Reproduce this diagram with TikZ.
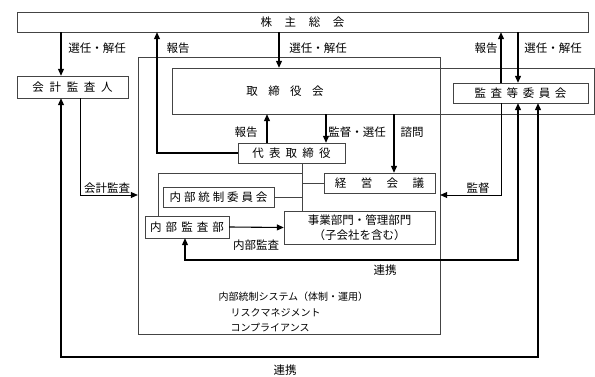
\documentclass[tikz,border=0pt]{standalone}
\usepackage{fontspec}
\setmainfont{Noto Sans CJK JP}
\usetikzlibrary{positioning, arrows.meta, calc}
\definecolor{lnbox}{HTML}{444444}

\begin{document}
\begin{tikzpicture}[x=1pt, y=-1pt, font=\fontsize{11.5}{14}\selectfont,
  box/.style={draw=lnbox, inner sep=0pt},
  arr/.style={-{Triangle[length=7pt,width=6pt]}, line width=1.1pt},
  thinarr/.style={-{Triangle[length=7pt,width=6pt]}, line width=0.7pt},
  arrboth/.style={{Triangle[length=7pt,width=6pt]}-{Triangle[length=7pt,width=6pt]}, line width=1.1pt},
  link/.style={draw=lnbox, line width=0.7pt},
  lbl/.style={inner sep=1pt}]
  \useasboundingbox (0,0) rectangle (595,377);

  % boxes
  \node[box, minimum width=571pt, minimum height=20pt] (soukai) at (302.5,22) {株\hspace{1.1em}主\hspace{1.1em}総\hspace{1.1em}会};
  \node[box, minimum width=302pt, minimum height=277pt] (system) at (289,195.5) {};
  \node[box, minimum width=422pt, minimum height=46pt] (torishimari) at (383,91) {};
  \node (torilabel) at (285,91) {取\hspace{0.9em}締\hspace{0.9em}役\hspace{0.9em}会};
  \node[box, minimum width=135pt, minimum height=20pt] (kansa) at (520.5,93) {監\hspace{0.4em}査\hspace{0.4em}等\hspace{0.4em}委\hspace{0.4em}員\hspace{0.4em}会};
  \node[box, minimum width=111pt, minimum height=22pt] (kaikei) at (72.5,87) {会\hspace{0.5em}計\hspace{0.5em}監\hspace{0.5em}査\hspace{0.5em}人};
  \node[box, minimum width=107pt, minimum height=20pt] (daihyo) at (291.5,153) {代\hspace{0.45em}表\hspace{0.45em}取\hspace{0.45em}締\hspace{0.45em}役};
  \node[box, minimum width=111pt, minimum height=20pt] (keiei) at (379.5,183) {経\hspace{1.25em}営\hspace{1.25em}会\hspace{1.25em}議};
  \node[box, minimum width=111pt, minimum height=20pt] (iinkai) at (218.5,197) {内\hspace{0.25em}部\hspace{0.25em}統\hspace{0.25em}制\hspace{0.25em}委\hspace{0.25em}員\hspace{0.25em}会};
  \node[box, minimum width=84pt, minimum height=22pt] (naibu) at (187,227) {内\hspace{0.35em}部\hspace{0.35em}監\hspace{0.35em}査\hspace{0.35em}部};
  \node[box, minimum width=151pt, minimum height=33pt, align=center, font=\fontsize{11.5}{15}\selectfont] (jigyo) at (359.5,227.5) {事業部門・管理部門\\（子会社を含む）};

  % text in the system box
  \node[anchor=west, font=\fontsize{10}{12}\selectfont] (sys1) at (215,297) {内部統制システム（体制・運用）};
  \node[anchor=west, font=\fontsize{10}{12}\selectfont] (sys2) at (227,313) {リスクマネジメント};
  \node[anchor=west, font=\fontsize{10}{12}\selectfont] (sys3) at (227,328) {コンプライアンス};

  % connector positions
  \coordinate (xkk) at (61,0);
  \coordinate (xkr) at (80,0);
  \coordinate (xhk) at (157,0);
  \coordinate (xnl) at (158,0);
  \coordinate (xnb) at (185,0);
  \coordinate (xdh) at (267,0);
  \coordinate (xts) at (279,0);
  \coordinate (xdl) at (302,0);
  \coordinate (xkt) at (326,0);
  \coordinate (xsm) at (394,0);
  \coordinate (xau) at (501,0);
  \coordinate (xas) at (518,0);
  \coordinate (xal) at (538,0);
  \coordinate (ytop) at (0,173);
  \coordinate (ykr) at (0,195);
  \coordinate (yrl) at (0,260);
  \coordinate (yol) at (0,357);

  % arrows
  \draw[arr] (soukai.south -| xkk) -- (kaikei.north -| xkk);
  \draw[arr] (daihyo.west) -| (soukai.south -| xhk);
  \draw[arr] (soukai.south -| xts) -- (torishimari.north -| xts);
  \draw[arr] (kansa.north -| xau) -- (soukai.south -| xau);
  \draw[arr] (soukai.south -| xas) -- (kansa.north -| xas);
  \draw[arr] (daihyo.north -| xdh) -- (torishimari.south -| xdh);
  \draw[arr] (torishimari.south -| xkt) -- (daihyo.north -| xkt);
  \draw[arr] (torishimari.south -| xsm) -- (keiei.north -| xsm);
  \draw[thinarr] (kaikei.south -| xkr) |- (system.west |- ykr);
  \draw[thinarr] (kansa.south -| xau) |- (system.east |- ykr);
  \draw[arr] (naibu.east) -- (jigyo.west);
  \draw[arrboth] (naibu.south -| xnb) |- (xas |- yrl) -- (kansa.south -| xas);
  \draw[arrboth] (kaikei.south -| xkk) |- (xal |- yol) -- (kansa.south -| xal);

  % plain lines
  \draw[link] (daihyo.south -| xdl) -- (jigyo.north -| xdl);
  \draw[link] (naibu.north -| xnl) |- (xdl |- ytop);
  \draw[link] (keiei.west) -- (keiei.west -| xdl);
  \draw[link] (iinkai.east) -- (iinkai.east -| xdl);

  % labels
  \node[lbl] (l1) at (97,48) {選任・解任};
  \node[lbl] (l2) at (178,48) {報告};
  \node[lbl] (l3) at (318,48) {選任・解任};
  \node[lbl] (l4) at (486,48) {報告};
  \node[lbl] (l5) at (553,48) {選任・解任};
  \node[lbl] (l6) at (246,132) {報告};
  \node[lbl] (l7) at (357,132) {監督・選任};
  \node[lbl] (l8) at (412,132) {諮問};
  \node[lbl] (l9) at (107,188) {会計監査};
  \node[lbl] (l10) at (478,188) {監督};
  \node[lbl] (l11) at (256,245) {内部監査};
  \node[lbl] (l12) at (385,270) {連携};
  \node[lbl] (l13) at (285,370) {連携};
\end{tikzpicture}
\end{document}
